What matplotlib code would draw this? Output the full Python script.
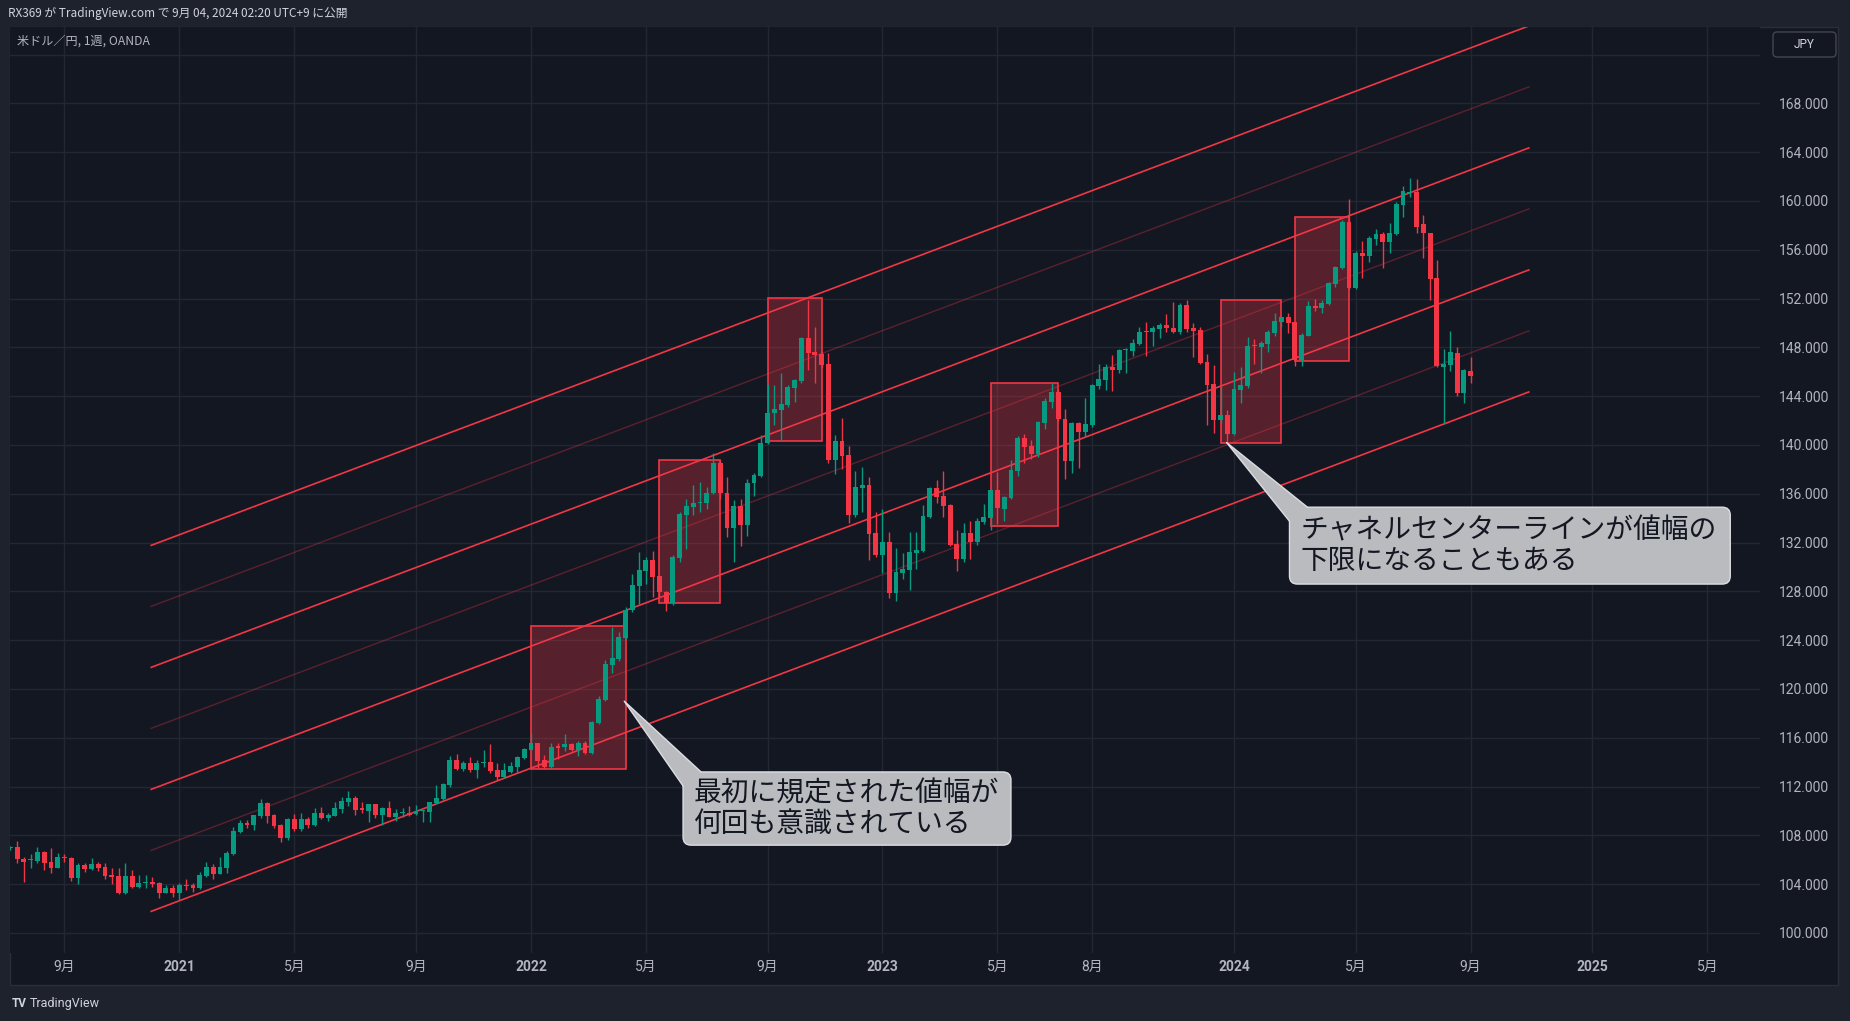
import numpy as np
import pandas as pd
import matplotlib
matplotlib.use("Agg")
import matplotlib.pyplot as plt
from matplotlib.patches import Rectangle, FancyBboxPatch, Polygon
from matplotlib.transforms import IdentityTransform

plt.rcParams['font.family'] = ['Noto Sans CJK JP', 'DejaVu Sans']

# USD/JPY weekly candles, first bar = week of 2020-07-13
first_week = "2020-07-13"
opens = [106.95, 107.02, 106.10, 105.95, 105.90, 106.61, 105.82, 105.35, 106.20, 106.15,
         104.54, 105.55, 105.27, 105.63, 105.38, 104.76, 104.67, 103.31, 104.67, 103.80,
         104.12, 104.18, 104.07, 103.31, 103.69, 103.31, 103.93, 103.91, 103.69, 104.70,
         105.41, 104.84, 105.35, 106.48, 108.31, 109.04, 108.85, 109.62, 110.66, 109.67,
         108.85, 107.76, 109.34, 108.52, 109.34, 108.85, 109.86, 109.40, 109.62, 110.16,
         110.76, 111.09, 110.14, 110.00, 110.57, 109.67, 110.25, 109.53, 109.84, 109.84,
         109.72, 110.00, 109.95, 110.66, 110.98, 112.14, 114.19, 113.45, 113.91, 113.37,
         113.95, 113.99, 113.37, 112.82, 113.23, 113.64, 114.38, 115.00, 115.55, 114.19,
         113.64, 115.28, 115.28, 115.50, 115.00, 115.55, 114.79, 117.24, 119.10, 121.97,
         122.47, 124.21, 126.47, 128.47, 129.70, 130.57, 129.26, 127.92, 127.02, 130.76,
         134.26, 134.94, 135.22, 135.21, 136.03, 138.49, 136.03, 133.16, 134.99, 133.44,
         136.86, 137.48, 140.13, 142.59, 142.86, 143.27, 144.70, 145.27, 148.79, 147.64,
         147.45, 146.63, 138.77, 140.30, 139.18, 134.26, 136.45, 136.72, 132.76, 130.98,
         132.02, 127.84, 129.54, 129.76, 131.17, 131.34, 134.10, 136.48, 135.82, 135.06,
         131.86, 130.66, 132.79, 132.02, 133.72, 134.05, 136.31, 134.76, 135.69, 137.90,
         140.55, 139.92, 139.29, 141.83, 143.56, 144.32, 142.11, 138.72, 141.78, 141.10,
         141.64, 144.87, 145.33, 146.40, 146.15, 147.79, 147.71, 148.28, 149.35, 149.24,
         149.51, 149.84, 149.57, 149.30, 151.48, 149.57, 149.43, 146.81, 145.00, 142.05,
         142.46, 140.91, 144.51, 144.84, 148.12, 148.06, 148.28, 149.15, 150.11, 150.49,
         150.05, 146.97, 148.96, 151.39, 151.26, 151.56, 153.20, 154.48, 158.30, 152.90,
         155.71, 155.52, 156.88, 157.30, 156.67, 157.30, 159.70, 160.66, 160.74, 158.11,
         157.35, 153.66, 146.42, 146.56, 147.54, 144.24, 146.06]
highs = [107.10, 107.54, 106.20, 106.47, 107.02, 106.70, 106.94, 106.53, 106.45, 106.20,
         105.74, 105.71, 106.12, 105.82, 105.71, 105.30, 105.30, 105.71, 105.16, 104.73,
         104.73, 104.59, 104.20, 103.93, 103.90, 104.07, 104.43, 104.10, 104.97, 105.82,
         105.65, 106.26, 106.75, 108.69, 109.23, 109.30, 109.70, 110.96, 110.70, 109.75,
         108.90, 109.40, 109.75, 109.84, 109.50, 110.25, 110.30, 109.80, 110.77, 111.15,
         111.64, 111.20, 110.70, 110.60, 110.60, 110.30, 110.82, 110.20, 110.25, 110.41,
         110.49, 110.05, 110.75, 112.13, 112.30, 114.54, 114.68, 114.10, 114.40, 114.20,
         115.00, 115.47, 113.90, 113.91, 114.00, 114.50, 115.20, 116.37, 115.60, 114.60,
         115.60, 115.55, 116.32, 115.60, 115.70, 115.77, 117.35, 119.40, 122.38, 125.10,
         124.68, 126.70, 129.42, 131.22, 130.84, 131.30, 129.30, 128.00, 130.95, 134.48,
         135.57, 136.72, 136.96, 136.53, 139.31, 138.77, 137.40, 135.49, 135.57, 137.21,
         137.73, 140.81, 145.00, 144.89, 145.87, 144.89, 145.43, 148.88, 151.88, 149.70,
         147.60, 147.54, 140.81, 142.20, 139.91, 137.86, 138.16, 137.40, 134.48, 134.72,
         132.84, 131.53, 131.12, 132.84, 132.84, 135.08, 136.55, 137.13, 137.87, 135.15,
         133.03, 133.58, 133.77, 134.05, 135.14, 136.40, 137.82, 135.80, 138.77, 140.74,
         140.90, 140.41, 141.95, 143.83, 145.06, 144.60, 142.93, 141.92, 141.86, 143.83,
         145.00, 146.62, 146.64, 147.38, 147.85, 147.93, 148.69, 149.65, 150.11, 149.79,
         149.98, 150.74, 151.75, 151.60, 151.90, 149.98, 149.70, 147.46, 146.56, 144.84,
         142.87, 146.02, 146.43, 148.83, 148.69, 148.55, 149.43, 150.79, 150.52, 150.79,
         150.10, 149.20, 151.80, 151.97, 151.88, 153.39, 154.67, 158.44, 160.14, 155.90,
         156.72, 157.13, 157.68, 157.49, 158.17, 159.89, 161.26, 161.86, 161.78, 158.85,
         157.40, 155.16, 147.84, 149.32, 148.06, 146.20, 147.18]
lows = [106.80, 105.77, 104.21, 105.35, 105.77, 105.16, 104.95, 105.30, 105.85, 104.29,
        104.02, 105.03, 105.20, 105.08, 104.40, 104.02, 103.22, 103.22, 103.66, 103.70,
        103.72, 103.80, 102.90, 103.30, 102.95, 102.68, 103.55, 103.40, 103.60, 104.60,
        104.45, 104.80, 104.95, 106.40, 108.20, 108.60, 108.44, 109.45, 109.04, 108.63,
        107.49, 107.60, 108.40, 108.40, 108.60, 108.77, 109.35, 109.20, 109.60, 109.80,
        110.40, 109.64, 109.80, 109.13, 109.40, 108.85, 109.50, 109.15, 109.53, 109.60,
        109.70, 109.13, 109.13, 110.60, 110.90, 112.00, 113.40, 113.30, 113.20, 112.74,
        113.60, 113.09, 112.55, 112.70, 113.10, 113.15, 114.30, 115.00, 113.56, 113.50,
        113.45, 114.24, 114.92, 114.92, 114.51, 114.70, 114.70, 117.10, 119.00, 121.34,
        122.33, 124.10, 126.30, 127.00, 128.60, 127.56, 127.50, 126.42, 126.90, 130.43,
        131.47, 134.26, 134.53, 134.75, 135.95, 135.60, 132.48, 130.43, 131.74, 132.54,
        135.84, 137.40, 140.05, 141.66, 140.32, 143.15, 143.52, 145.10, 146.14, 145.10,
        146.40, 138.49, 137.62, 138.05, 133.57, 134.07, 134.53, 130.57, 130.79, 129.48,
        127.43, 127.24, 129.02, 128.12, 129.84, 131.20, 133.99, 135.28, 134.13, 131.72,
        129.67, 130.44, 130.66, 131.81, 133.55, 133.06, 133.52, 133.80, 135.60, 137.46,
        138.50, 138.83, 139.05, 141.29, 143.01, 142.00, 137.24, 137.73, 138.09, 140.69,
        141.50, 144.57, 144.51, 144.46, 145.93, 145.93, 147.33, 148.20, 147.33, 148.15,
        148.80, 149.24, 149.20, 149.10, 149.24, 147.19, 146.62, 141.64, 140.96, 141.80,
        140.14, 140.82, 143.47, 144.70, 146.64, 145.93, 147.65, 148.96, 149.70, 149.21,
        146.47, 146.47, 148.90, 151.01, 150.85, 151.50, 152.98, 154.43, 152.75, 152.79,
        153.66, 155.00, 156.37, 154.53, 155.71, 157.19, 158.71, 160.35, 157.35, 155.35,
        151.88, 146.42, 141.72, 146.06, 144.04, 143.47, 145.11]
closes = [107.02, 106.09, 105.85, 106.00, 106.61, 105.77, 105.35, 106.20, 106.15, 104.54,
          105.55, 105.25, 105.63, 105.35, 104.70, 104.62, 103.31, 104.67, 103.80, 104.07,
          104.15, 104.02, 103.31, 103.66, 103.31, 103.91, 103.88, 103.72, 104.73, 105.41,
          104.84, 105.41, 106.56, 108.39, 109.02, 108.88, 109.67, 110.66, 109.62, 108.80,
          107.81, 109.34, 108.52, 109.34, 108.85, 109.84, 109.40, 109.67, 110.25, 110.85,
          111.07, 110.11, 110.12, 110.57, 109.67, 110.25, 109.53, 109.84, 109.84, 109.67,
          109.95, 110.00, 110.71, 111.07, 112.21, 114.19, 113.45, 113.91, 113.37, 113.91,
          114.00, 113.31, 112.82, 113.37, 113.70, 114.46, 115.08, 115.55, 114.13, 113.64,
          115.28, 115.20, 115.50, 115.00, 115.55, 114.79, 117.30, 119.21, 122.05, 122.52,
          124.24, 126.48, 128.52, 129.75, 130.57, 129.20, 127.92, 127.02, 130.84, 134.34,
          134.99, 135.21, 135.26, 136.03, 138.49, 136.03, 133.16, 134.99, 133.44, 136.88,
          137.54, 140.19, 142.59, 142.95, 143.36, 144.78, 145.32, 148.79, 147.56, 147.37,
          146.55, 138.77, 140.30, 139.09, 134.26, 136.53, 136.72, 132.70, 130.98, 132.02,
          127.84, 129.56, 129.84, 131.20, 131.37, 134.18, 136.48, 135.77, 135.00, 131.81,
          130.66, 132.79, 132.02, 133.77, 134.10, 136.31, 134.81, 135.74, 137.95, 140.55,
          139.87, 139.29, 141.86, 143.61, 144.32, 142.11, 138.72, 141.78, 141.10, 141.72,
          144.92, 145.42, 146.40, 146.18, 147.79, 147.82, 148.34, 149.30, 149.24, 149.57,
          149.84, 149.57, 149.30, 151.48, 149.51, 149.38, 146.75, 144.92, 142.05, 142.46,
          140.91, 144.57, 144.92, 148.12, 148.10, 148.39, 149.23, 150.16, 150.49, 150.03,
          146.97, 149.02, 151.39, 151.23, 151.61, 153.25, 154.56, 158.30, 152.90, 155.71,
          155.52, 156.94, 157.30, 156.67, 157.40, 159.75, 160.82, 160.74, 157.84, 157.40,
          153.63, 146.50, 146.64, 147.60, 144.29, 146.15, 145.68]

# parallel channel (lower line anchors) and its levels
channel_dates = ["2020-12-05", "2024-11-02"]
channel_base = [101.75, 144.37]
channel_levels = [0, 5, 10, 15, 20, 25, 30]

# range boxes
box_start = ["2022-01-03", "2022-05-16", "2022-09-05", "2023-04-24", "2023-12-18", "2024-03-04"]
box_end = ["2022-04-11", "2022-07-18", "2022-10-31", "2023-07-03", "2024-02-19", "2024-04-29"]
box_low = [113.42, 127.02, 140.30, 133.34, 140.14, 146.91]
box_high = [125.16, 138.75, 152.02, 145.06, 151.86, 158.66]

# time axis
tick_dates = ["2020-09-07", "2021-01-04", "2021-05-03", "2021-09-06", "2022-01-03", "2022-05-02",
              "2022-09-05", "2023-01-02", "2023-05-01", "2023-08-07", "2024-01-01", "2024-05-06",
              "2024-09-02", "2025-01-06", "2025-05-05"]
tick_labels = ["9月", "2021", "5月", "9月", "2022", "5月", "9月", "2023", "5月", "8月",
               "2024", "5月", "9月", "2025", "5月"]
price_ticks = list(range(100, 173, 4))

note1 = "最初に規定された値幅が\n何回も意識されている"
note2 = "チャネルセンターラインが値幅の\n下限になることもある"

base = pd.Timestamp("2022-01-03")


def wk(d):
    return (pd.Timestamp(d) - base).days / 7


W, H = 1850, 1021
BG_OUT = '#1e222d'
BG = '#131722'
GRID = '#232733'
UP = '#089981'
DOWN = '#f23645'
TXT = '#b2b5be'

fig = plt.figure(figsize=(W / 100, H / 100), dpi=100, facecolor=BG_OUT)
fig.patches.append(Rectangle((10 / W, 1 - 985 / H), 1828 / W, 958 / H, transform=fig.transFigure,
                             fc=BG, ec='#2a2e39', lw=1, zorder=-5))

ax = fig.add_axes([10 / W, 1 - 953 / H, 1750 / W, 926 / H])
ax.set_facecolor(BG)
xmin, xmax = -77.06, 181.8
ymin, ymax = 98.36, 174.26
ax.set_xlim(xmin, xmax)
ax.set_ylim(ymin, ymax)
wpp = (xmax - xmin) / 1750   # weeks per pixel
ppp = (ymax - ymin) / 926    # price per pixel

# grid + ticks
ax.set_yticks(price_ticks)
ax.set_yticklabels([f"{v:.3f}" if v < 172 else "" for v in price_ticks])
ax.set_xticks([wk(d) for d in tick_dates])
ax.set_xticklabels(tick_labels)
ax.yaxis.tick_right()
ax.tick_params(axis='y', length=0, pad=13.5, labelsize=10, labelcolor=TXT)
ax.tick_params(axis='x', length=0, pad=5, labelsize=10, labelcolor=TXT)
for lab in ax.get_yticklabels():
    lab.set_family(['Roboto', 'DejaVu Sans'])
for lab in ax.get_xticklabels():
    lab.set_family(['Roboto', 'Noto Sans CJK JP'])
    if lab.get_text().isdigit():
        lab.set_fontweight('bold')
ax.grid(True, color=GRID, lw=1, zorder=0)
ax.set_axisbelow(True)
for s in ax.spines.values():
    s.set_visible(False)

# boxes
for s, e, lo, hi in zip(box_start, box_end, box_low, box_high):
    ax.add_patch(Rectangle((wk(s), lo), wk(e) - wk(s), hi - lo, fc=DOWN, alpha=0.3, ec='none', zorder=1))
    ax.add_patch(Rectangle((wk(s), lo), wk(e) - wk(s), hi - lo, fc='none', ec=DOWN, lw=1.2, zorder=1.5))

# channel lines
cx = [wk(d) for d in channel_dates]
for lev in channel_levels:
    main = lev % 10 == 0
    ax.plot(cx, [p + lev for p in channel_base], color=DOWN, lw=1.2 if main else 1.0,
            alpha=1.0 if main else 0.32, zorder=2, solid_capstyle='butt')

# candles
dates = pd.date_range(first_week, periods=len(opens), freq='7D')
x = np.asarray((dates - base).days / 7, dtype=float)
o = np.array(opens)
c = np.array(closes)
cols = np.where(c >= o, UP, DOWN)
ax.vlines(x, lows, highs, colors=cols, lw=1, zorder=3)
body_lo = np.minimum(o, c)
body_h = np.maximum(np.abs(c - o), 0.09)
ax.bar(x, body_h, bottom=body_lo, width=0.72, color=cols, lw=0, zorder=4)


# callouts
def callout(x0, x1, y0, y1, tip, text):
    fill, edge = '#b9bbbf', '#dcdee3'
    ax.add_patch(FancyBboxPatch((x0, y0), x1 - x0, y1 - y0,
                                boxstyle=f"round,pad=0,rounding_size={8 * wpp}",
                                mutation_aspect=ppp / wpp, fc=fill, ec=edge, lw=1, zorder=7))
    a = (x0, y1 - 14 * ppp)
    b = (x0 + 18 * wpp, y1)
    inner = (x0 + 18 * wpp, y1 - 14 * ppp)
    ax.add_patch(Polygon([tip, a, inner, b], closed=True, fc=fill, ec='none', zorder=8))
    ax.plot([a[0], tip[0], b[0]], [a[1], tip[1], b[1]], color=edge, lw=1, zorder=9)
    ax.text(x0 + 11 * wpp, (y0 + y1) / 2, text, fontsize=20, color='#131722', ha='left',
            va='center', linespacing=1.05, family=['Noto Sans CJK JP', 'DejaVu Sans'], zorder=10)


callout(22.5, 71.0, 107.2, 113.2, (13.8, 119.0), note1)
callout(112.2, 177.4, 128.6, 134.9, (102.9, 140.2), note2)

# header, legend, footer
fig.text(8 / W, 1 - 14 / H, "RX369 が TradingView.com で 9月 04, 2024 02:20 UTC+9 に公開",
         fontsize=8.5, color='#d1d4dc', va='center', ha='left')
fig.text(17 / W, 1 - 41 / H, "米ドル／円, 1週, OANDA", fontsize=8.7, color=TXT, va='center', ha='left')
fig.patches.append(FancyBboxPatch((1773, H - 57), 63, 25, boxstyle="round,pad=0,rounding_size=4",
                                  transform=IdentityTransform(), fc=BG, ec='#434651', lw=1))
fig.text(1804.5 / W, 1 - 44.5 / H, "JPY", fontsize=8.5, color='#d1d4dc', ha='center', va='center',
         family=['Roboto', 'DejaVu Sans'])
fig.text(12 / W, 1 - 1003 / H, "TV", fontsize=8.5, color='#d1d4dc', ha='left', va='center',
         fontweight='bold', family=['Roboto', 'DejaVu Sans'])
fig.text(30 / W, 1 - 1003 / H, "TradingView", fontsize=9, color='#d1d4dc', ha='left', va='center',
         family=['Roboto', 'DejaVu Sans'])

fig.savefig("out.png", dpi=100, facecolor=BG_OUT)
